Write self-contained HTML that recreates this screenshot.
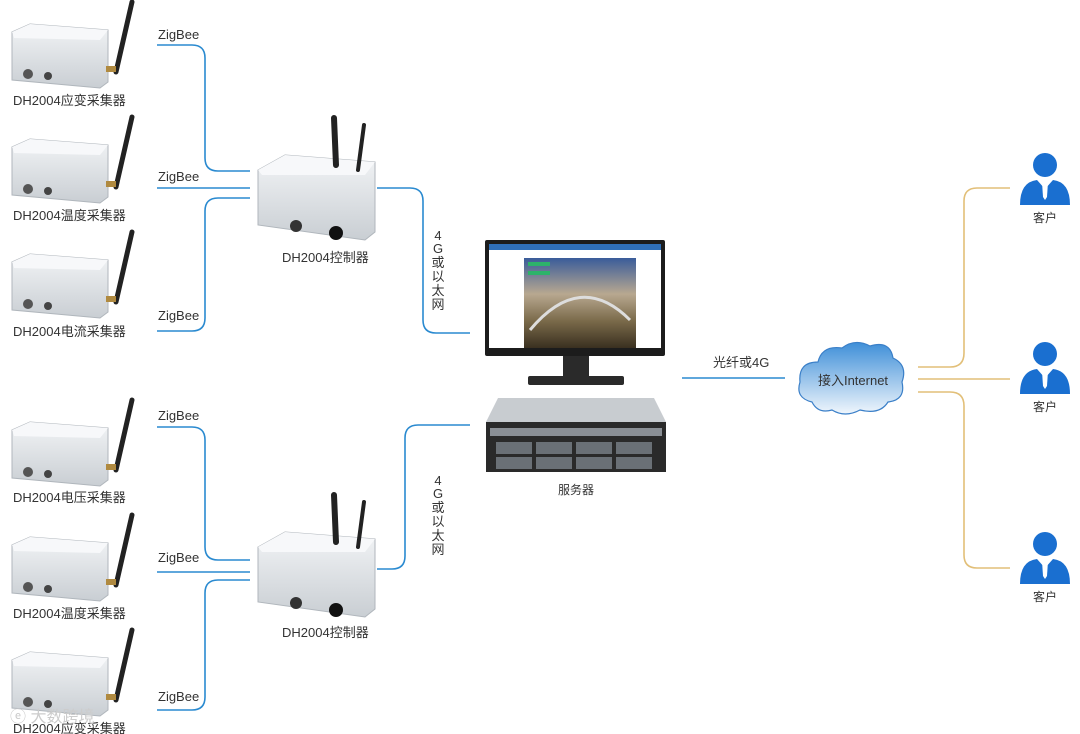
<!DOCTYPE html>
<html><head><meta charset="utf-8"><style>
body{margin:0;background:#fff;}
svg{display:block;font-family:"Liberation Sans","Noto Sans CJK SC",sans-serif;}
</style></head><body>
<svg width="1080" height="734" viewBox="0 0 1080 734">
<defs>
<linearGradient id="box" x1="0" y1="0" x2="0" y2="1"><stop offset="0" stop-color="#f2f4f6"/><stop offset="1" stop-color="#c9ced3"/></linearGradient>
<linearGradient id="scr" x1="0" y1="0" x2="0" y2="1"><stop offset="0" stop-color="#3a5c9a"/><stop offset="0.4" stop-color="#b8a890"/><stop offset="0.7" stop-color="#7a6a4a"/><stop offset="1" stop-color="#3a3020"/></linearGradient>
<linearGradient id="cl" x1="0" y1="0" x2="0" y2="1"><stop offset="0" stop-color="#3f8fd8"/><stop offset="1" stop-color="#f0f6fc"/></linearGradient>
<g id="sensor">
<polygon points="12,32 30,24 108,30 108,82 100,88 12,80" fill="url(#box)" stroke="#b0b6bc"/>
<polygon points="12,32 30,24 108,30 100,40 14,38" fill="#f7f8fa"/>
<circle cx="28" cy="74" r="5" fill="#555"/><circle cx="48" cy="76" r="4" fill="#444"/>
<line x1="116" y1="72" x2="132" y2="2" stroke="#222" stroke-width="5" stroke-linecap="round"/>
<rect x="106" y="66" width="10" height="6" fill="#b08a40"/>
</g>
<g id="ctrl">
<polygon points="258,170 285,155 375,162 375,232 365,240 258,225" fill="url(#box)" stroke="#b0b6bc"/>
<polygon points="258,170 285,155 375,162 365,175 262,175" fill="#f7f8fa"/>
<line x1="336" y1="165" x2="334" y2="118" stroke="#222" stroke-width="6" stroke-linecap="round"/>
<line x1="358" y1="170" x2="364" y2="125" stroke="#222" stroke-width="4" stroke-linecap="round"/>
<circle cx="296" cy="226" r="6" fill="#333"/><circle cx="336" cy="233" r="7" fill="#111"/>
</g>
<g id="person" fill="#1a6fd0">
<circle cx="0" cy="0" r="12"/>
<path d="M-25,40 Q-25,17 -8,15 L0,24 L8,15 Q25,17 25,40 Z"/>
<path d="M-3,17 L3,17 L2,32 L0,35 L-2,32 Z" fill="#fff"/>
</g>
</defs>
<g fill="none" stroke="#2a8ad0" stroke-width="1.6">
<path d="M157,45 H192 Q205,45 205,58 V158 Q205,171 218,171 H250"/>
<path d="M157,188 H250"/>
<path d="M250,198 H218 Q205,198 205,211 V318 Q205,331 192,331 H157"/>
<path d="M157,427 H192 Q205,427 205,440 V547 Q205,560 218,560 H250"/>
<path d="M157,572 H250"/>
<path d="M250,580 H218 Q205,580 205,593 V697 Q205,710 192,710 H157"/>
<path d="M377,188 H410 Q423,188 423,201 V320 Q423,333 436,333 H470"/>
<path d="M377,569 H392 Q405,569 405,556 V438 Q405,425 418,425 H470"/>
<path d="M682,378 H785"/>
</g>
<g fill="none" stroke="#e2bf78" stroke-width="1.6">
<path d="M918,367 H950 Q964,367 964,353 V201 Q964,188 977,188 H1010"/>
<path d="M918,379 H1010"/>
<path d="M918,392 H950 Q964,392 964,406 V555 Q964,568 977,568 H1010"/>
</g>
<use href="#sensor"/><use href="#sensor" y="115"/><use href="#sensor" y="230"/>
<use href="#sensor" y="398"/><use href="#sensor" y="513"/><use href="#sensor" y="628"/>
<use href="#ctrl"/><use href="#ctrl" y="377"/>
<g font-size="13" fill="#333">
<text x="13" y="105">DH2004应变采集器</text>
<text x="13" y="220">DH2004温度采集器</text>
<text x="13" y="336">DH2004电流采集器</text>
<text x="13" y="502">DH2004电压采集器</text>
<text x="13" y="618">DH2004温度采集器</text>
<text x="13" y="733">DH2004应变采集器</text>
<text x="158" y="39">ZigBee</text><text x="158" y="181">ZigBee</text><text x="158" y="320">ZigBee</text>
<text x="158" y="420">ZigBee</text><text x="158" y="562">ZigBee</text><text x="158" y="701">ZigBee</text>
<text x="282" y="262">DH2004控制器</text><text x="282" y="637">DH2004控制器</text>
<text x="713" y="367">光纤或4G</text>
<g text-anchor="middle"><text x="438" y="240">4</text><text x="438" y="253">G</text><text x="438" y="267">或</text><text x="438" y="281">以</text><text x="438" y="295">太</text><text x="438" y="309">网</text></g>
<g text-anchor="middle"><text x="438" y="485">4</text><text x="438" y="498">G</text><text x="438" y="512">或</text><text x="438" y="526">以</text><text x="438" y="540">太</text><text x="438" y="554">网</text></g>
</g>
<!-- monitor -->
<rect x="485" y="240" width="180" height="116" rx="2" fill="#1c1c1c"/>
<rect x="489" y="244" width="172" height="104" fill="#fff"/>
<rect x="489" y="244" width="172" height="6" fill="#2f6fb8"/>
<rect x="524" y="258" width="112" height="90" fill="url(#scr)"/>
<rect x="528" y="262" width="22" height="4" fill="#2db36a"/><rect x="528" y="271" width="22" height="4" fill="#2db36a"/>
<path d="M530,330 Q580,270 630,320" stroke="#ddd" stroke-width="3" fill="none"/>
<rect x="563" y="356" width="26" height="20" fill="#2a2a2a"/>
<rect x="528" y="376" width="96" height="9" rx="2" fill="#2a2a2a"/>
<!-- server -->
<polygon points="498,398 654,398 666,422 486,422" fill="#c8ccd0"/>
<rect x="486" y="422" width="180" height="50" fill="#2a2a2a"/>
<rect x="490" y="428" width="172" height="8" fill="#8a8f95"/>
<g fill="#6a7076"><rect x="496" y="442" width="36" height="12"/><rect x="536" y="442" width="36" height="12"/><rect x="576" y="442" width="36" height="12"/><rect x="616" y="442" width="36" height="12"/><rect x="496" y="457" width="36" height="12"/><rect x="536" y="457" width="36" height="12"/><rect x="576" y="457" width="36" height="12"/><rect x="616" y="457" width="36" height="12"/></g>
<text x="576" y="494" font-size="12" fill="#333" text-anchor="middle">服务器</text>
<!-- cloud -->
<path d="M812,402 Q795,398 800,382 Q798,362 818,362 Q822,345 842,348 Q855,338 870,346 Q890,340 893,358 Q908,365 902,382 Q906,400 888,402 Q880,415 860,410 Q845,418 832,410 Q818,414 812,402 Z" fill="url(#cl)" stroke="#3a7fc8" stroke-width="1.2"/>
<text x="853" y="385" font-size="13" fill="#333" text-anchor="middle">接入Internet</text>
<use href="#person" x="1045" y="165"/><use href="#person" x="1045" y="354"/><use href="#person" x="1045" y="544"/>
<g font-size="12" fill="#333" text-anchor="middle"><text x="1045" y="222">客户</text><text x="1045" y="411">客户</text><text x="1045" y="601">客户</text></g>
<text x="10" y="722" font-size="16" fill="#ccc">ⓔ 大数跨境</text>
</svg>
</body></html>
